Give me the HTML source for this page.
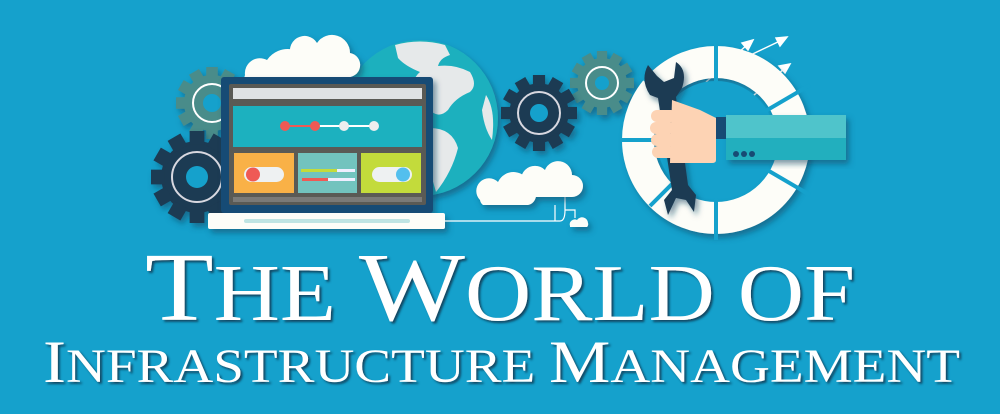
<!DOCTYPE html>
<html><head><meta charset="utf-8"><style>
html,body{margin:0;padding:0;background:#15a1cc;}
svg{display:block}
text{font-family:"Liberation Serif",serif;fill:#fff;}
</style></head><body>
<svg width="1000" height="414" viewBox="0 0 1000 414" xmlns="http://www.w3.org/2000/svg">
<defs>
<filter id="sh" x="-20%" y="-20%" width="140%" height="140%"><feDropShadow dx="3" dy="4" stdDeviation="3" flood-color="#0a4a63" flood-opacity="0.55"/></filter>
<filter id="ts"><feDropShadow dx="2" dy="2" stdDeviation="1" flood-color="#0b3347" flood-opacity="0.8"/></filter>
<g id="gear">
<circle r="0.78"/>
<g>
<rect x="-0.16" y="-1" width="0.32" height="0.3"/>
<rect x="-0.16" y="-1" width="0.32" height="0.3" transform="rotate(30)"/>
<rect x="-0.16" y="-1" width="0.32" height="0.3" transform="rotate(60)"/>
<rect x="-0.16" y="-1" width="0.32" height="0.3" transform="rotate(90)"/>
<rect x="-0.16" y="-1" width="0.32" height="0.3" transform="rotate(120)"/>
<rect x="-0.16" y="-1" width="0.32" height="0.3" transform="rotate(150)"/>
<rect x="-0.16" y="-1" width="0.32" height="0.3" transform="rotate(180)"/>
<rect x="-0.16" y="-1" width="0.32" height="0.3" transform="rotate(210)"/>
<rect x="-0.16" y="-1" width="0.32" height="0.3" transform="rotate(240)"/>
<rect x="-0.16" y="-1" width="0.32" height="0.3" transform="rotate(270)"/>
<rect x="-0.16" y="-1" width="0.32" height="0.3" transform="rotate(300)"/>
<rect x="-0.16" y="-1" width="0.32" height="0.3" transform="rotate(330)"/>
</g>
</g>
</defs>

<!-- globe -->
<g filter="url(#sh)">
<circle cx="420" cy="118" r="78" fill="#1fb0be"/>
</g>
<path d="M395 45 Q420 38 445 45 L450 55 Q440 58 438 66 Q455 64 470 72 Q478 85 470 92 Q455 98 448 110 Q440 118 432 112 Q425 100 415 96 Q410 80 420 72 Q405 66 398 58Z" fill="#e6e9ea"/>
<path d="M430 128 Q452 128 458 148 Q452 172 436 192 Q430 170 422 150 Q420 135 430 128Z" fill="#e6e9ea"/>
<path d="M486 95 Q496 110 492 140 Q484 128 482 110Z" fill="#e6e9ea"/>

<!-- back gears -->
<g fill="#4a8c8a" filter="url(#sh)">
<use href="#gear" transform="translate(212,103) scale(36)"/>
<use href="#gear" transform="translate(602,83) scale(32)"/>
</g>
<circle cx="212" cy="103" r="19" fill="none" stroke="#fff" stroke-width="2"/>
<circle cx="212" cy="103" r="9" fill="#15a1cc"/>
<circle cx="602" cy="83" r="16" fill="none" stroke="#fff" stroke-width="2"/>
<circle cx="602" cy="83" r="7" fill="#15a1cc"/>

<!-- dark gears -->
<g fill="#1c3a52" filter="url(#sh)">
<use href="#gear" transform="translate(197,177) scale(46)"/>
<use href="#gear" transform="translate(539,113) scale(38)"/>
</g>
<circle cx="197" cy="177" r="25" fill="none" stroke="#d8d8e0" stroke-width="2"/>
<circle cx="197" cy="177" r="11" fill="#15a1cc"/>
<circle cx="539" cy="113" r="21" fill="none" stroke="#d8d8e0" stroke-width="2"/>
<circle cx="539" cy="113" r="9" fill="#15a1cc"/>

<!-- clouds top -->
<g fill="#fdfdf8" filter="url(#sh)">
<path d="M292 58 a14 14 0 0 1 25-15 a18 18 0 0 1 33 10 a12 12 0 0 1 -4 24 h-54 a10 10 0 0 1 0-19z"/>
<path d="M245 75 a15 15 0 0 1 22-15 a25 25 0 0 1 45 8 a12 12 0 0 1 3 9 a10 10 0 0 1 -8 10 h-60 a12 12 0 0 1 -2-12z"/>
</g>

<!-- laptop -->
<g filter="url(#sh)">
<rect x="221" y="77" width="212" height="136" rx="3" fill="#174b74"/>
<rect x="229" y="84" width="197" height="121" rx="2" fill="#5a5a55"/>
<rect x="233" y="88" width="189" height="11" fill="#dfe2e4"/>
<rect x="233" y="106" width="189" height="41" fill="#1db1bf"/>
<line x1="285" y1="126" x2="374" y2="126" stroke="#fff" stroke-width="2"/>
<line x1="285" y1="126" x2="315" y2="126" stroke="#ef5a55" stroke-width="2"/>
<circle cx="285" cy="126" r="5" fill="#ef5a55"/>
<circle cx="315" cy="126" r="5" fill="#ef5a55"/>
<circle cx="344" cy="126" r="5" fill="#eeeeee"/>
<circle cx="374" cy="126" r="5" fill="#eeeeee"/>
<rect x="234" y="153" width="60" height="40" fill="#f9b146"/>
<rect x="298" y="153" width="59" height="40" fill="#72c3be"/>
<rect x="361" y="153" width="60" height="40" fill="#c3db3b"/>
<rect x="244" y="167" width="40" height="15" rx="7.5" fill="#eef1f2"/>
<circle cx="253" cy="174.5" r="7" fill="#ef5a55"/>
<rect x="372" y="167" width="40" height="15" rx="7.5" fill="#eef1f2"/>
<circle cx="403" cy="174.5" r="7" fill="#53bfee"/>
<rect x="301" y="169" width="54" height="3" fill="#eef"/><rect x="301" y="169" width="36" height="3" fill="#c3db3b"/>
<rect x="302" y="178" width="53" height="3" fill="#eef"/><rect x="302" y="178" width="26" height="3" fill="#ef5a55"/>
<rect x="233" y="197" width="189" height="5" fill="#7a7a78"/>
<rect x="208" y="213" width="237" height="16" rx="2" fill="#fdfdf8"/>
<rect x="244" y="219" width="166" height="4" rx="2" fill="#bfe4e3"/>
</g>
<path d="M445 221 H555 V205 M555 221 H560 Q565 221 565 210 V188 M565 210 H575 V218" fill="none" stroke="#fff" stroke-width="1.2"/>

<!-- clouds bottom -->
<g fill="#fdfdf8" filter="url(#sh)">
<path d="M525 190 a12 12 0 0 1 20-20 a14 14 0 0 1 27 5 a11 11 0 0 1 0 22 h-45 a8 8 0 0 1 -2-7z"/>
<path d="M480 200 a12 12 0 0 1 18-18 a17 17 0 0 1 32 3 a10 10 0 0 1 6 10 a10 10 0 0 1 -8 10 h-45 a8 8 0 0 1 -3-5z"/>
<path d="M570 226 a5 5 0 0 1 7-6 a6 6 0 0 1 11 3 a4 4 0 0 1 -1 4 h-17z"/>
</g>

<!-- arrows -->
<g stroke="#fff" stroke-width="1.5" fill="#fff">
<line x1="706" y1="82" x2="748" y2="44"/><polygon points="753,40 742,43 748,50"/>
<line x1="740" y1="60" x2="782" y2="40"/><polygon points="787,37 776,38 780,46"/>
<line x1="745" y1="103" x2="785" y2="68"/><polygon points="790,64 779,66 785,73"/>
</g>

<!-- ring -->
<g filter="url(#sh)">
<circle cx="716" cy="140" r="78" fill="none" stroke="#fdfdf8" stroke-width="32"/>
</g>
<g stroke="#15a1cc" stroke-width="4">
<line x1="716" y1="140" x2="716" y2="40"/>
<line x1="716" y1="140" x2="716" y2="240"/>
<line x1="716" y1="140" x2="810" y2="85"/>
<line x1="716" y1="140" x2="810" y2="195"/>
<line x1="716" y1="140" x2="620" y2="140"/>
<line x1="716" y1="140" x2="650" y2="206"/>
<line x1="716" y1="140" x2="640" y2="75"/>
</g>
<circle cx="716" cy="140" r="59" fill="#15a1cc"/>

<!-- wrench -->
<g fill="#1d3b53" filter="url(#sh)">
<path d="M648 65 Q640 80 650 95 L658 98 L672 190 L664 200 L668 215 L676 198 L686 200 L694 212 L696 195 L688 185 L676 97 L682 88 Q688 70 676 62 L674 78 L664 82 L657 76Z"/>
</g>
<!-- hand & sleeve -->
<path d="M672 100 L700 110 L716 118 V160 Q716 163 712 163 H670 Z" fill="#fdd3b4"/>
<rect x="651" y="110" width="26" height="12" rx="6" fill="#fdd3b4"/>
<rect x="650" y="122" width="26" height="12" rx="6" fill="#fdd3b4"/>
<rect x="651" y="134" width="26" height="12" rx="6" fill="#fdd3b4"/>
<rect x="652" y="146" width="24" height="12" rx="6" fill="#fdd3b4"/>
<rect x="716" y="117" width="12" height="22" fill="#174b74"/>
<g filter="url(#sh)">
<rect x="726" y="115" width="120" height="24" fill="#4fc4cb"/>
<rect x="726" y="138" width="120" height="22" fill="#21afbe"/>
</g>
<circle cx="736" cy="154" r="3" fill="#174b74"/><circle cx="744" cy="154" r="3" fill="#174b74"/><circle cx="752" cy="154" r="3" fill="#174b74"/>

<!-- title -->
<g filter="url(#ts)">
<text x="145" y="320" textLength="710" lengthAdjust="spacingAndGlyphs"><tspan font-size="98">T</tspan><tspan font-size="80">HE </tspan><tspan font-size="98">W</tspan><tspan font-size="80">ORLD OF</tspan></text>
<text x="43" y="382" textLength="917" lengthAdjust="spacingAndGlyphs"><tspan font-size="60">I</tspan><tspan font-size="48">NFRASTRUCTURE </tspan><tspan font-size="60">M</tspan><tspan font-size="48">ANAGEMENT</tspan></text>
</g>
</svg>
</body></html>
